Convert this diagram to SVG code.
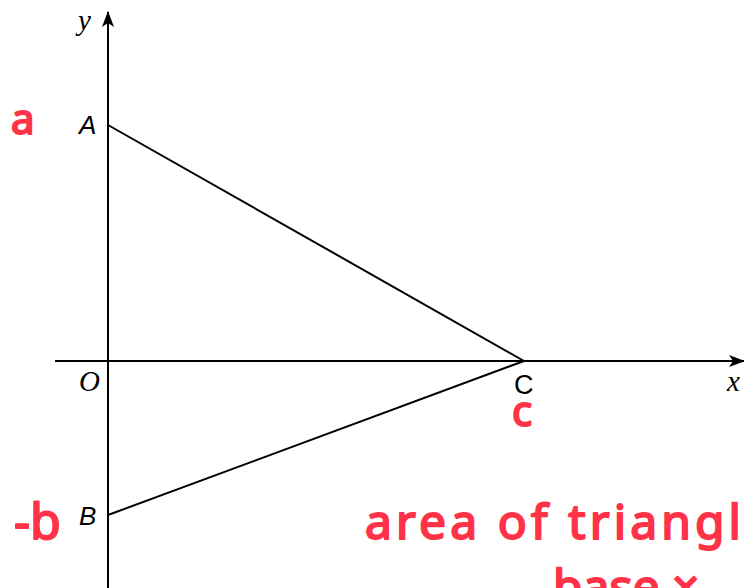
<svg xmlns="http://www.w3.org/2000/svg" width="744" height="588" viewBox="0 0 744 588">
<style>
.ax{stroke:#000;stroke-width:2;fill:none}
.ln{stroke:#000;stroke-width:2;fill:none}
.lbl{font-family:"Liberation Sans",Arial,sans-serif;font-style:italic;font-size:26px;fill:#000}
.var{font-family:"Liberation Serif","Times New Roman",serif;font-style:italic;font-size:29px;fill:#000}
.hw{font-family:"Noto Sans","DejaVu Sans",sans-serif;font-weight:normal;fill:#ff3347;stroke:#ff3347;stroke-width:2;stroke-linejoin:round}
</style>
<defs>
<marker id="arr" viewBox="0 0 16 12" refX="15" refY="6" markerWidth="16" markerHeight="12" markerUnits="userSpaceOnUse" orient="auto">
<path d="M0,0 L16,6 L0,12 L4,6 Z" fill="#000"/>
</marker>
</defs>
<rect width="744" height="588" fill="#fff"/>
<g id="axes">
<line class="ax" x1="108" y1="588" x2="108" y2="12" marker-end="url(#arr)"/>
<line class="ax" x1="55" y1="361" x2="744" y2="361" marker-end="url(#arr)"/>
</g>
<g id="connectors">
<line class="ln" x1="108" y1="125" x2="524" y2="361"/>
<line class="ln" x1="108" y1="515" x2="524" y2="361"/>
</g>
<g id="node-A"><text class="lbl" x="79" y="134">A</text></g>
<g id="node-B"><text class="lbl" x="79" y="525">B</text></g>
<g id="node-C"><text class="lbl" x="514" y="394" style="font-style:normal;font-size:27px">C</text></g>
<g id="node-O"><text class="var" x="79" y="391">O</text></g>
<g id="label-y"><text class="var" x="78" y="30">y</text></g>
<g id="label-x"><text class="var" x="727" y="391">x</text></g>
<g id="notes">
<text class="hw" x="11" y="134" font-size="42">a</text>
<text class="hw" x="14" y="539" font-size="50">-b</text>
<text class="hw" x="512" y="426" font-size="42">c</text>
<text class="hw" x="365" y="539" font-size="48" textLength="376" lengthAdjust="spacing">area of triangl</text>
<text class="hw" x="553" y="604" font-size="48">base ×</text>
</g>
</svg>
